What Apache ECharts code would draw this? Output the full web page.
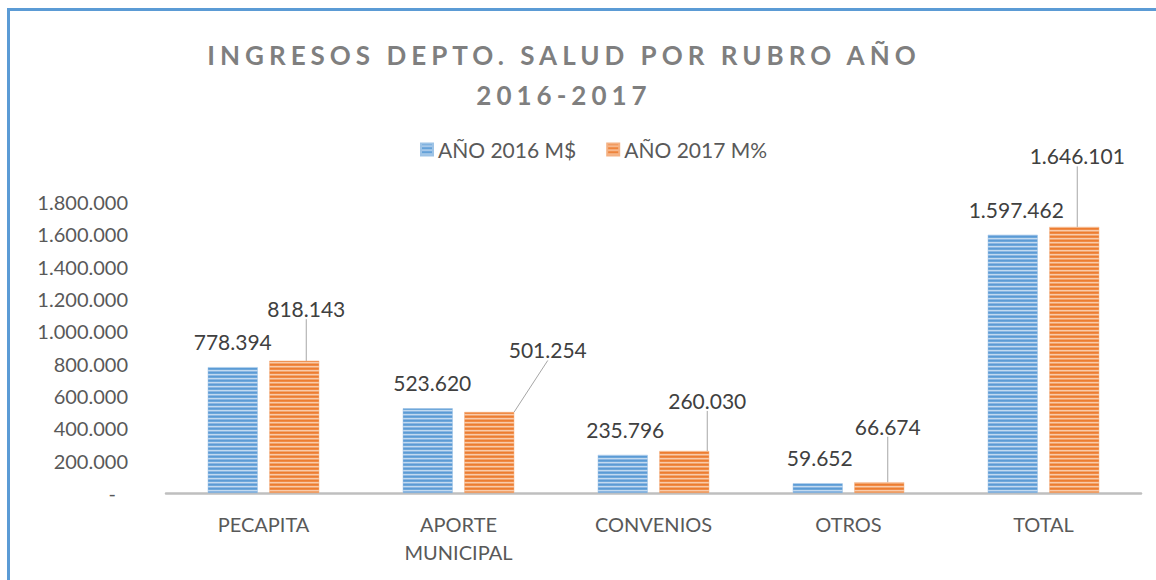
<!DOCTYPE html>
<html>
<head>
<meta charset="utf-8">
<script src="https://cdn.jsdelivr.net/npm/echarts@6/dist/echarts.min.js"></script>
<style>
  html, body { margin: 0; padding: 0; background: #ffffff; }
  #chart { width: 1156px; height: 580px; }
  #chart text[fill="#7f7f7f"] { letter-spacing: 5px; }
</style>
</head>
<body>
<div id="chart"></div>
<script>
// ---- data ----
const categories = ['PECAPITA', 'APORTE\nMUNICIPAL', 'CONVENIOS', 'OTROS', 'TOTAL'];
const seriesNames = ['AÑO 2016 M$', 'AÑO 2017 M%'];
const values2016 = [778394, 523620, 235796, 59652, 1597462];
const values2017 = [818143, 501254, 260030, 66674, 1646101];
const yTicks = { min: 0, max: 1800000, interval: 200000 };

// ---- label offsets (styling) ----
const blueLabelDx = [0, 4.5, 2.5, 2, 3.5];
const orangeLabelOffsets = [[12, -26.5], [58.5, -36.5], [23, -25], [8.5, -30.5], [3, -45.5]];

function stripes(rows) {
  const c = document.createElement('canvas');
  c.width = 4; c.height = rows.length;
  const ctx = c.getContext('2d');
  rows.forEach((col, i) => { ctx.fillStyle = col; ctx.fillRect(0, i, 4, 1); });
  return { image: c, repeat: 'repeat', imageWidth: 4, imageHeight: rows.length };
}
const bluePattern = stripes(['#5b9bd5', '#6ea7da', '#c3daf0', '#8ab6e2']);
const orangePattern = stripes(['#ed7d31', '#ef8b47', '#f9cbab', '#f2a56e']);

function fmt(v) {
  return String(v).replace(/\B(?=(\d{3})+(?!\d))/g, '.');
}

const chart = echarts.init(document.getElementById('chart'), null, { renderer: 'svg' });
chart.setOption({
  animation: false,
  backgroundColor: '#ffffff',
  graphic: [
    { type: 'rect', shape: { x: 7, y: 8, width: 1149, height: 3 }, style: { fill: '#5b9bd5' }, silent: true },
    { type: 'rect', shape: { x: 7, y: 8, width: 3, height: 572 }, style: { fill: '#5b9bd5' }, silent: true }
  ],
  title: {
    text: 'INGRESOS DEPTO. SALUD POR RUBRO AÑO\n2016-2017',
    left: 564,
    textAlign: 'center',
    top: 35,
    padding: 0,
    textStyle: { fontFamily: 'Lato', fontSize: 26, fontWeight: 'bold', color: '#7f7f7f', lineHeight: 40 }
  },
  legend: {
    left: 415,
    top: 134,
    itemWidth: 12,
    itemHeight: 12,
    itemGap: 30,
    textStyle: { fontFamily: 'Lato', fontSize: 21, color: '#595959' },
    data: seriesNames.map(n => ({ name: n, icon: 'rect' }))
  },
  grid: { left: 166, right: 15, top: 202, bottom: 87, containLabel: false },
  xAxis: {
    type: 'category',
    data: categories,
    axisLine: { lineStyle: { color: '#bfbfbf', width: 2.5 } },
    axisTick: { show: false },
    axisLabel: { fontFamily: 'Lato', fontSize: 20, color: '#595959', margin: 17, lineHeight: 28 }
  },
  yAxis: {
    type: 'value',
    min: yTicks.min, max: yTicks.max, interval: yTicks.interval,
    axisLine: { show: false },
    axisTick: { show: false },
    splitLine: { show: false },
    axisLabel: {
      fontFamily: 'Lato', fontSize: 20, color: '#595959', margin: 38,
      formatter: v => v === 0 ? '{d|-}' : fmt(v),
      rich: { d: { fontFamily: 'Lato', fontSize: 20, color: '#595959', padding: [0, 12, 0, 0] } }
    }
  },
  series: [
    {
      name: seriesNames[0],
      type: 'bar',
      data: values2016,
      barWidth: 50,
      barGap: '23%',
      itemStyle: { color: bluePattern, borderColor: '#9dc3e6', borderWidth: 0.5 },
      label: {
        show: true, position: 'top', distance: 15,
        fontFamily: 'Lato', fontSize: 21, color: '#404040',
        formatter: p => fmt(p.value)
      },
      labelLayout: p => ({ dx: blueLabelDx[p.dataIndex] })
    },
    {
      name: seriesNames[1],
      type: 'bar',
      data: values2017,
      barWidth: 50,
      itemStyle: { color: orangePattern, borderColor: '#f4b183', borderWidth: 0.5 },
      label: {
        show: true, position: 'top', distance: 15,
        fontFamily: 'Lato', fontSize: 21, color: '#404040',
        formatter: p => fmt(p.value)
      },
      labelLine: { show: true, lineStyle: { color: '#a6a6a6', width: 1 } },
      labelLayout: p => {
        const o = orangeLabelOffsets[p.dataIndex];
        return { dx: o[0], dy: o[1] };
      }
    }
  ]
});
</script>
</body>
</html>
